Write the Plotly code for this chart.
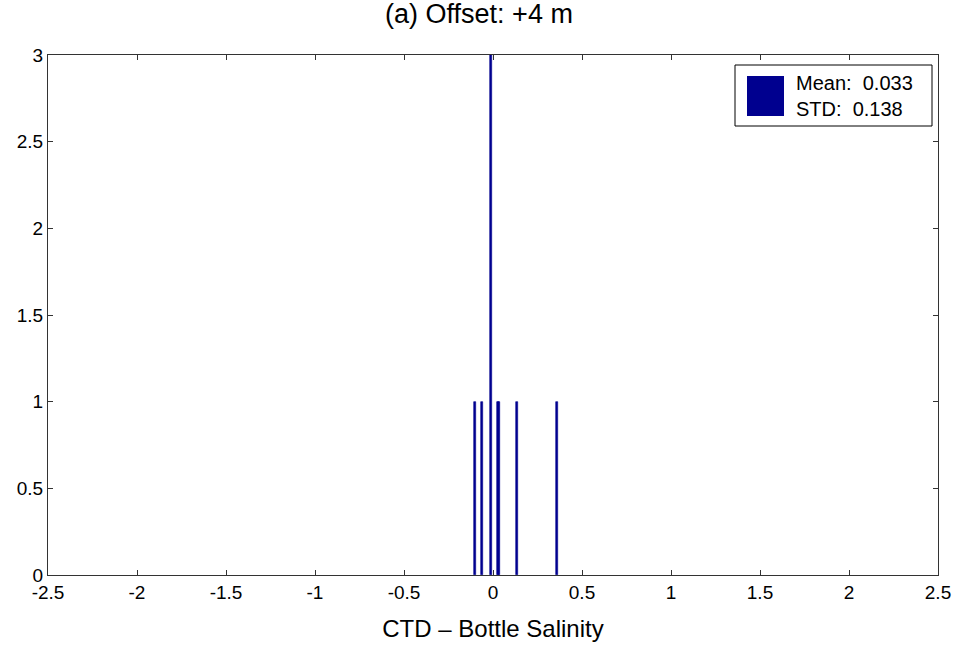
import plotly.graph_objects as go

# Histogram bins (CTD - Bottle salinity differences) and counts
bin_centers = [-0.103, -0.062, -0.013, 0.028, 0.036, 0.137, 0.358]
counts = [1, 1, 3, 1, 1, 1, 1]
x_ticks = [-2.5, -2, -1.5, -1, -0.5, 0, 0.5, 1, 1.5, 2, 2.5]
y_ticks = [0, 0.5, 1, 1.5, 2, 2.5, 3]
mean_val = 0.033
std_val = 0.138

color = "#00008F"
font = "Liberation Sans, Arial, sans-serif"

fig = go.Figure()
fig.add_trace(go.Bar(
    x=bin_centers, y=counts, width=0.0105,
    marker=dict(color=color, line=dict(color=color, width=0.6)),
    showlegend=False,
))

axis_common = dict(
    showgrid=False, zeroline=False, showline=True, linecolor="#333333", linewidth=1,
    mirror="ticks", ticks="inside", ticklen=5, tickcolor="#333333",
    tickfont=dict(family=font, size=19, color="black"), automargin=False,
)
fig.update_xaxes(range=[-2.5, 2.5], tickvals=x_ticks,
                 ticktext=[f"{v:g}" for v in x_ticks],
                 title=dict(text="CTD – Bottle Salinity", font=dict(family=font, size=24, color="black"), standoff=18),
                 **axis_common)
fig.update_yaxes(range=[0, 3], tickvals=y_ticks,
                 ticktext=[f"{v:g}" for v in y_ticks], **axis_common)

# Legend box (drawn manually to mimic MATLAB legend)
fig.add_shape(type="rect", xref="paper", yref="paper",
              x0=(735-48)/890, x1=(932-48)/890, y0=(575-126)/520, y1=(575-65)/520,
              line=dict(color="black", width=1), fillcolor="white")
fig.add_shape(type="rect", xref="paper", yref="paper",
              x0=(747-48)/890, x1=(784-48)/890, y0=(575-116)/520, y1=(575-76)/520,
              line=dict(color=color, width=0), fillcolor=color)
fig.add_annotation(xref="paper", yref="paper", x=(794-48)/890, y=(575-96)/520,
                   xanchor="left", yanchor="middle", showarrow=False, align="left",
                   text=f"Mean:  {mean_val:.3f}<br>STD:  {std_val:.3f}",
                   font=dict(family=font, size=20, color="black"))

fig.update_layout(
    width=958, height=649,
    margin=dict(l=48, r=20, t=55, b=74, autoexpand=False),
    paper_bgcolor="white", plot_bgcolor="white",
    title=dict(text="(a) Offset: +4 m", x=0.5, xanchor="center", y=1-14/649, yanchor="middle",
               font=dict(family=font, size=27, color="black"), automargin=False),
    bargap=0, showlegend=False,
)

fig.write_html("out.html")
